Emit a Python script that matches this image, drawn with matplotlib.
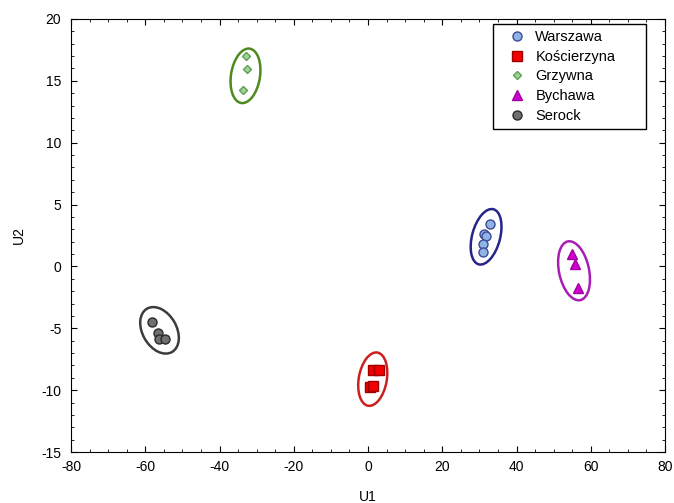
import numpy as np
import matplotlib
matplotlib.use("Agg")
import matplotlib.pyplot as plt
import matplotlib.transforms as mtransforms
from matplotlib.patches import Ellipse
from matplotlib.ticker import MultipleLocator

plt.rcParams['font.family'] = ['Liberation Sans', 'DejaVu Sans']
plt.rcParams['axes.unicode_minus'] = False

# data
groups = ['Warszawa', 'Kościerzyna', 'Grzywna', 'Bychawa', 'Serock']
warszawa_u1 = [32.8, 31.3, 31.8, 30.9, 30.9]
warszawa_u2 = [3.45, 2.6, 2.5, 1.83, 1.19]
koscierzyna_u1 = [1.4, 3.0, 0.54, 1.27]
koscierzyna_u2 = [-8.38, -8.38, -9.72, -9.64]
grzywna_u1 = [-32.9, -32.5, -33.6]
grzywna_u2 = [17.0, 15.93, 14.26]
bychawa_u1 = [54.9, 55.8, 56.6]
bychawa_u2 = [0.98, 0.22, -1.77]
serock_u1 = [-58.3, -56.5, -56.2, -54.7]
serock_u2 = [-4.47, -5.36, -5.9, -5.9]

u1_values = [warszawa_u1, koscierzyna_u1, grzywna_u1, bychawa_u1, serock_u1]
u2_values = [warszawa_u2, koscierzyna_u2, grzywna_u2, bychawa_u2, serock_u2]

# styles: marker, size, face, edge, ellipse colour,
# ellipse (w px, h px, angle, dx px right, dy px down) relative to cluster mean
styles = [
    ('o', 6.5, '#8fb3e3', '#3c4a98', '#26268a', (28, 57, -15, 1, -1)),
    ('s', 6.5, '#f00000', '#a00000', '#cc2020', (28, 54, -10, -1, 1)),
    ('D', 4.5, '#9ed49a', '#5ca050', '#4e8a1e', (29, 55, -9, 0, 4)),
    ('^', 7.0, '#d000d0', '#a000a0', '#a81eb4', (30, 60, 12, -1, 2)),
    ('o', 6.5, '#707070', '#2a2a2a', '#3c3c3c', (34, 50, 30, 1, -3)),
]

fig = plt.figure(figsize=(6.74, 5.03), dpi=100)
ax = fig.add_axes([71 / 674, 1 - 452 / 503, 594 / 674, 433 / 503])

for name, xs, ys, st in zip(groups, u1_values, u2_values, styles):
    marker, ms, face, edge, ecol, (ew, eh, ang, dx, dy) = st
    ax.plot(xs, ys, linestyle='none', marker=marker, markersize=ms,
            markerfacecolor=face, markeredgecolor=edge, markeredgewidth=1.0,
            label=name, zorder=3)
    cx, cy = np.mean(xs), np.mean(ys)
    # ellipse sized in pixels, centred on the cluster
    trans = fig.dpi_scale_trans + mtransforms.ScaledTranslation(cx, cy, ax.transData)
    ell = Ellipse((dx / 100, -dy / 100), ew / 100, eh / 100, angle=ang,
                  transform=trans, fill=False, edgecolor=ecol, linewidth=1.8, zorder=2)
    ax.add_patch(ell)

ax.set_xlim(-80, 80)
ax.set_ylim(-15, 20)
ax.xaxis.set_major_locator(MultipleLocator(20))
ax.xaxis.set_minor_locator(MultipleLocator(5))
ax.yaxis.set_major_locator(MultipleLocator(5))
ax.yaxis.set_minor_locator(MultipleLocator(1))
ax.tick_params(which='both', direction='in', top=True, right=True, labelsize=10)
ax.tick_params(which='major', length=4)
ax.tick_params(which='minor', length=2.5)
ax.tick_params(axis='x', which='major', pad=6)
ax.tick_params(axis='y', which='major', pad=7)
ax.set_xlabel('U1', fontsize=10, labelpad=11)
ax.set_ylabel('U2', fontsize=10, labelpad=11)

leg = ax.legend(loc='upper left',
                bbox_to_anchor=(493 / 674, 1 - 128 / 503, 153 / 674, 104 / 503),
                bbox_transform=fig.transFigure, borderaxespad=0, mode='expand',
                fontsize=10.5, fancybox=False, framealpha=1, edgecolor='black',
                handlelength=2.5, handletextpad=0.0, labelspacing=0.40,
                borderpad=0.4)
leg.get_frame().set_linewidth(1.0)

fig.savefig('out.png', dpi=100)
